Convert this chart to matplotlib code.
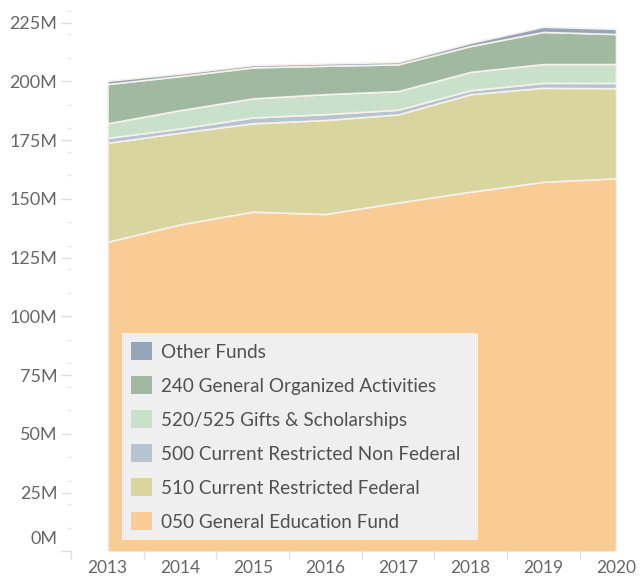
import matplotlib
matplotlib.use("Agg")
import matplotlib.pyplot as plt
from matplotlib.patches import Patch
from matplotlib.ticker import FixedLocator, FuncFormatter
import matplotlib.transforms as mtransforms

years = [2013, 2014, 2015, 2016, 2017, 2018, 2019, 2020]
general_education = [131.8, 139.2, 144.6, 143.6, 148.5, 153.1, 157.3, 158.8]
restricted_federal = [42.1, 39.0, 37.6, 40.0, 37.5, 41.5, 40.0, 38.3]
restricted_non_federal = [2.1, 1.8, 2.5, 2.5, 2.0, 1.7, 2.1, 2.3]
gifts_scholarships = [6.2, 7.8, 8.1, 8.5, 7.9, 7.8, 8.0, 8.0]
general_organized = [16.7, 14.5, 13.2, 12.1, 11.4, 11.0, 13.7, 12.8]
other_funds = [1.4, 1.1, 1.0, 1.0, 1.0, 1.4, 2.2, 2.2]

labels = ["050 General Education Fund", "510 Current Restricted Federal",
          "500 Current Restricted Non Federal", "520/525 Gifts & Scholarships",
          "240 General Organized Activities", "Other Funds"]
colors = ["#f9cc95", "#d8d59f", "#b6c4d2", "#c9e0cb", "#a2b9a1", "#95a6b8"]
series = [general_education, restricted_federal, restricted_non_federal,
          gifts_scholarships, general_organized, other_funds]

plt.rcParams['font.family'] = ['Lato', 'DejaVu Sans']

fig = plt.figure(figsize=(6.4, 5.78), dpi=100)
W, H = 640, 578
left_px, right_px, top_px, bot_px = 71.2, 616, 11, 551.4
ax = fig.add_axes([left_px / W, (H - bot_px) / H, (right_px - left_px) / W, (bot_px - top_px) / H])

ax.stackplot(years, *series, colors=colors, edgecolor="#f6f1ea", linewidth=1.2)

ax.set_xlim(2012.5, 2020)
ax.set_ylim(0, 230)

for s in ax.spines.values():
    s.set_visible(False)

ax.yaxis.set_major_locator(FixedLocator([0, 25, 50, 75, 100, 125, 150, 175, 200, 225]))
ax.yaxis.set_minor_locator(FixedLocator([10, 20, 30, 40, 60, 70, 80, 90, 110, 120, 130, 140, 160, 170, 180, 190, 210, 220, 230]))
ax.yaxis.set_major_formatter(FuncFormatter(lambda v, p: f"{int(v)}M"))
ax.tick_params(axis='y', which='major', length=7, color='#dddddd', width=1, pad=3,
               labelsize=13, labelcolor='#666666')
ax.tick_params(axis='y', which='minor', length=3, color='#e6e6e6', width=1)

ax.xaxis.set_major_locator(FixedLocator(years))
ax.xaxis.set_minor_locator(FixedLocator([2012.5 + i for i in range(8)]))
ax.tick_params(axis='x', which='major', length=0, pad=6, labelsize=12.5, labelcolor='#666666')
ax.tick_params(axis='x', which='minor', length=6, color='#e0e0e0', width=1)

# shift the 0M label up like the reference
for lbl in ax.get_yticklabels():
    if lbl.get_text() == "0M":
        lbl.set_verticalalignment('bottom')
        lbl.set_transform(lbl.get_transform() + mtransforms.ScaledTranslation(0, 3 / 72, fig.dpi_scale_trans))

# legend
handles = [Patch(facecolor=c, edgecolor='none') for c in colors][::-1]
leg = ax.legend(handles, labels[::-1], loc='lower left',
                bbox_to_anchor=((121.7 - left_px) / (right_px - left_px), (bot_px - 540) / (bot_px - top_px),
                                (477.7 - 121.7) / (right_px - left_px), 0.1),
                mode='expand', borderaxespad=0, frameon=True, fancybox=False,
                fontsize=13.6, labelcolor='#505050', handlelength=1.1, handleheight=1.1,
                handletextpad=0.5, labelspacing=0.82, borderpad=0.5)
leg.get_frame().set_facecolor('#efefef')
leg.get_frame().set_edgecolor('none')
leg.get_frame().set_alpha(1)

fig.savefig("out.png", dpi=100)
